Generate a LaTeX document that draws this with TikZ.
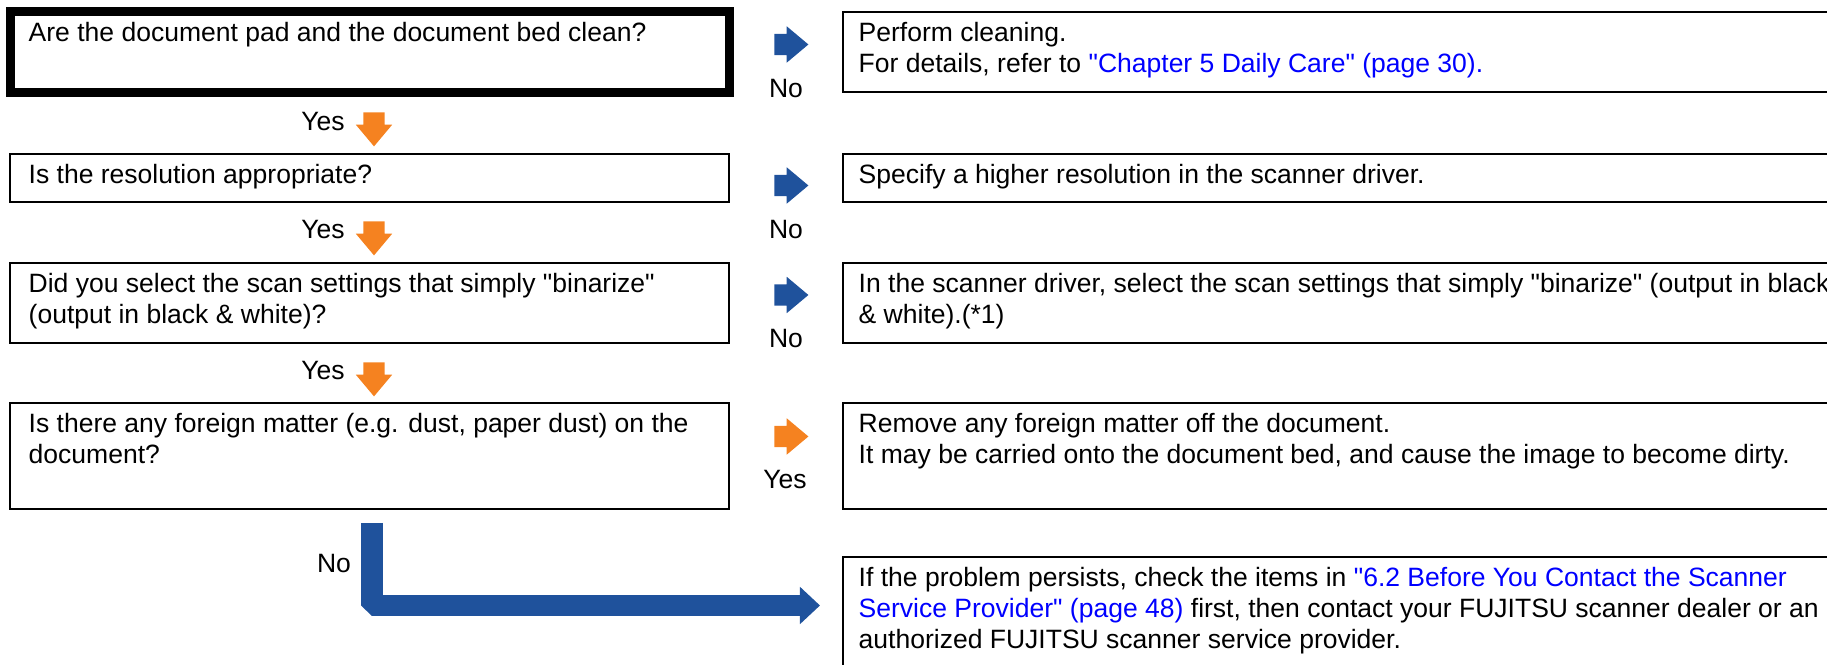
\documentclass[tikz,border=0pt]{standalone}
\usepackage{fontspec}
\setmainfont{Liberation Sans}[Ligatures=TeXOff]
\usetikzlibrary{shapes.arrows,arrows.meta}

\definecolor{yesorange}{RGB}{245,130,32}
\definecolor{noblue}{RGB}{31,82,156}
\definecolor{linkblue}{RGB}{0,0,255}
\newcommand\boxfont{\fontsize{7.54pt}{8.82pt}\selectfont}
\newcommand\lnk[1]{\textcolor{linkblue}{#1}}
\newcommand\tp{\rule{0pt}{0.2cm}}

\tikzset{
  qbox/.style={draw, line width=0.02cm, anchor=north west, inner sep=0pt, outer sep=0pt, minimum width=7.19cm},
  abox/.style={draw, line width=0.02cm, anchor=north west, inner sep=0pt, outer sep=0pt, minimum width=12cm},
  txt/.style={anchor=north west, inner sep=0pt, align=left},
  lbl/.style={inner sep=0pt},
  flowarrow/.style={single arrow, draw=none, inner xsep=0pt, inner ysep=0.1cm, minimum height=0.34cm,
    minimum width=0.35cm, single arrow head extend=0.075cm, single arrow tip angle=80},
  noarrow/.style={flowarrow, fill=noblue},
  yesarrow/.style={flowarrow, fill=yesorange},
  yesdown/.style={yesarrow, inner xsep=0.1cm, inner ysep=0pt, shape border rotate=270},
  bigarrow/.style={draw=noblue, line width=0.215cm, line join=bevel, -{Triangle[length=0.2cm, width=0.36cm]}}
}

\begin{document}
\begin{tikzpicture}[x=0.01cm, y=-0.01cm, font=\boxfont]
  \useasboundingbox (0,0) rectangle (1827,665);

  % Questions
  \node[qbox, line width=0.085cm, minimum width=7.185cm, minimum height=0.81cm] (pad) at (10.5,11.5) {};
  \node[qbox, minimum height=0.48cm] (res) at (10,154) {};
  \node[qbox, minimum height=0.8cm] (bin) at (10,263) {};
  \node[qbox, minimum height=1.06cm] (dust) at (10,403) {};

  % Answers
  \node[abox, minimum height=0.8cm] (padfix) at (843,12) {};
  \node[abox, minimum height=0.48cm] (resfix) at (843,154) {};
  \node[abox, minimum height=0.8cm] (binfix) at (843,263) {};
  \node[abox, minimum height=1.06cm] (dustfix) at (843,403) {};
  \node[abox, minimum height=2cm] (contact) at (843,557) {};

  % Texts
  \node[txt] (padtxt) at (28,21) {\tp Are the document pad and the document bed clean?};
  \node[txt] (restxt) at (28,163) {\tp Is the resolution appropriate?};
  \node[txt] (bintxt) at (28,272) {\tp Did you select the scan settings that simply "binarize"\\(output in black \& white)?};
  \node[txt] (dusttxt) at (28,412) {\tp Is there any foreign matter (e.g. dust, paper dust) on the\\document?};
  \node[txt] (padfixtxt) at (858,21) {\tp Perform cleaning.\\For details, refer to \lnk{"Chapter 5 Daily Care" (page 30).}};
  \node[txt] (resfixtxt) at (858,163) {\tp Specify a higher resolution in the scanner driver.};
  \node[txt] (binfixtxt) at (858,272) {\tp In the scanner driver, select the scan settings that simply "binarize" (output in black\\\& white).(*1)};
  \node[txt] (dustfixtxt) at (858,412) {\tp Remove any foreign matter off the document.\\It may be carried onto the document bed, and cause the image to become dirty.};
  \node[txt] (contacttxt) at (858,566) {\tp If the problem persists, check the items in \lnk{"6.2 Before You Contact the Scanner}\\\lnk{Service Provider" (page 48)} first, then contact your FUJITSU scanner dealer or an\\authorized FUJITSU scanner service provider.};

  % Yes arrows
  \node[yesdown] (padyes) at (374,123) {};
  \node[lbl] (padyesl) at (323,122) {Yes};
  \node[yesdown] (resyes) at (374,232) {};
  \node[lbl] (resyesl) at (323,230) {Yes};
  \node[yesdown] (binyes) at (374,373) {};
  \node[lbl] (binyesl) at (323,371) {Yes};
  \node[yesarrow] (dustyes) at (785,436.5) {};
  \node[lbl] (dustyesl) at (785,480) {Yes};

  % No arrows
  \node[noarrow] (padno) at (785,44.5) {};
  \node[lbl] (padnol) at (786,89) {No};
  \node[noarrow] (resno) at (785,185.5) {};
  \node[lbl] (resnol) at (786,230) {No};
  \node[noarrow] (binno) at (785,295) {};
  \node[lbl] (binnol) at (786,339) {No};

  \coordinate (duststart) at (372,523);
  \coordinate (contactend) at (820,605.5);
  \draw[bigarrow] (duststart) |- (contactend);
  \node[lbl] (dustnol) at (334,564) {No};
\end{tikzpicture}
\end{document}
